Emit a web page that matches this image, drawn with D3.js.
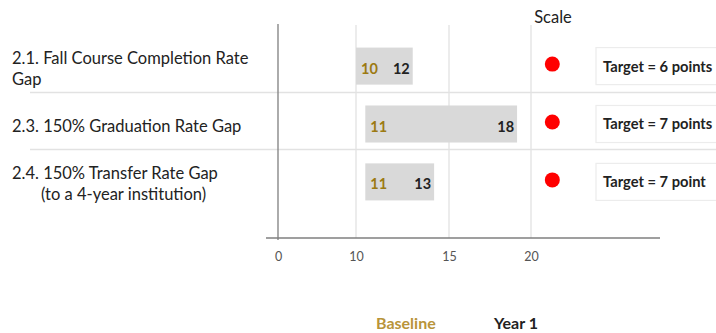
<!DOCTYPE html>
<html>
<head>
<meta charset="utf-8">
<script src="https://cdn.jsdelivr.net/npm/d3@7"></script>
<style>
  html, body { margin: 0; padding: 0; background: #fff; }
  svg { display: block; font-family: Lato, "Open Sans", sans-serif; }
</style>
</head>
<body>
<svg id="chart" width="716" height="333"></svg>
<script>
// ---- data ----
const categories = [
  ["2.1. Fall Course Completion Rate", "Gap"],
  ["2.3. 150% Graduation Rate Gap"],
  ["2.4. 150% Transfer Rate Gap", "(to a 4-year institution)"]
];
const baseline = [10, 11, 11];
const year1 = [12, 18, 13];
// bar extents as drawn on the slide (axis units)
const barFrom = [10, 10.5, 10.5];
const barTo = [13.05, 19.15, 14.2];
const targets = ["Target = 6 points", "Target = 7 points", "Target = 7 point"];
const tickValues = [0, 10, 15, 20];
const scalePoint = 21.3; // red dot position
const legendLabels = ["Baseline", "Year 1"];

// ---- layout ----
const svg = d3.select("#chart");
const gold = "#9C7A12";
const dark = "#222";
const font = "Lato, 'Open Sans', sans-serif";

// broken (piecewise) axis as in the slide
const x = d3.scaleLinear().domain([0, 10, 15, 20]).range([278, 356, 449, 531]);
const y = d3.scaleBand().domain(d3.range(categories.length)).range([36, 212]).paddingInner(0.36).paddingOuter(0.2);
const cy = i => y(i) + y.bandwidth() / 2;

const plotTop = 25, plotBottom = 238;

// vertical grid lines
svg.append("g").selectAll("line").data(tickValues.filter(d => d !== 0)).join("line")
  .attr("x1", d => x(d)).attr("x2", d => x(d))
  .attr("y1", plotTop).attr("y2", plotBottom)
  .attr("stroke", "#d9d9d9").attr("stroke-width", 1);

// row separators
const seps = [92.5, 149.5];
svg.append("g").selectAll("line").data(seps).join("line")
  .attr("x1", 30).attr("x2", 716)
  .attr("y1", d => d).attr("y2", d => d)
  .attr("stroke", "#e2e2e2").attr("stroke-width", 1.5);

// y axis line (at 0)
svg.append("line")
  .attr("x1", x(0)).attr("x2", x(0)).attr("y1", plotTop - 1).attr("y2", plotBottom + 2)
  .attr("stroke", "#7f7f7f").attr("stroke-width", 1.3);

// x axis
const axis = d3.axisBottom(x).tickValues(tickValues).tickSize(0).tickPadding(14);
const gx = svg.append("g").attr("transform", `translate(0,${plotBottom})`).call(axis);
gx.select(".domain").remove();
gx.append("line").attr("x1", 266).attr("x2", 660).attr("y1", 0).attr("y2", 0)
  .attr("stroke", "#7f7f7f").attr("stroke-width", 1.3);
gx.selectAll("text").attr("fill", "#555").attr("font-size", 12.5)
  .attr("font-family", font);

// bars
svg.append("g").selectAll("rect").data(d3.range(categories.length)).join("rect")
  .attr("x", i => x(barFrom[i]))
  .attr("width", i => x(barTo[i]) - x(barFrom[i]))
  .attr("y", i => y(i)).attr("height", y.bandwidth())
  .attr("fill", "#d9d9d9");

// baseline labels
svg.append("g").selectAll("text").data(baseline).join("text")
  .attr("x", (d, i) => x(barFrom[i]) + 5)
  .attr("y", (d, i) => cy(i) + 7.5)
  .attr("fill", gold).attr("font-weight", 700).attr("font-size", 14.5)
  .text(d => d);

// year1 labels
svg.append("g").selectAll("text").data(year1).join("text")
  .attr("x", (d, i) => x(barTo[i]) - 3)
  .attr("y", (d, i) => cy(i) + 7.5)
  .attr("text-anchor", "end")
  .attr("fill", dark).attr("font-weight", 700).attr("font-size", 14.5)
  .text(d => d);

// scale header
svg.append("text").attr("x", 553).attr("y", 23).attr("text-anchor", "middle")
  .attr("font-size", 16.5).attr("fill", "#222").text("Scale");

// red dots
svg.append("g").selectAll("circle").data(d3.range(categories.length)).join("circle")
  .attr("cx", x(scalePoint))
  .attr("cy", i => cy(i) - 2)
  .attr("r", 7.5).attr("fill", "#ff0000");

// target boxes
const tg = svg.append("g").selectAll("g").data(targets).join("g")
  .attr("transform", (d, i) => `translate(596,${y(i)})`);
tg.append("rect").attr("width", 125).attr("height", y.bandwidth())
  .attr("fill", "#fff").attr("stroke", "#ececec").attr("stroke-width", 1.2);
tg.append("text").attr("x", 7).attr("y", y.bandwidth() / 2 + 5.5)
  .attr("font-size", 14.7).attr("font-weight", 700).attr("fill", "#222")
  .text(d => d);

// category labels (the sub-line of the last row is indented on the slide)
const cl = svg.append("g").selectAll("text").data(categories).join("text")
  .attr("font-size", 16.5).attr("fill", "#222");
cl.each(function(lines, i) {
  const t = d3.select(this);
  const y0 = lines.length === 1 ? cy(i) + 7.5 : cy(i) - 2.5;
  lines.forEach((ln, k) => {
    const indent = (k > 0 && ln.startsWith("(")) ? 41 : 12;
    t.append("tspan").attr("x", indent).attr("y", y0 + k * 21).text(ln);
  });
});

// legend
svg.append("g").selectAll("text").data(legendLabels).join("text")
  .attr("x", (d, i) => [376, 494][i]).attr("y", 329)
  .attr("font-size", 16).attr("font-weight", 700)
  .attr("fill", (d, i) => i === 0 ? "#B8943A" : dark)
  .text(d => d);
</script>
</body>
</html>
